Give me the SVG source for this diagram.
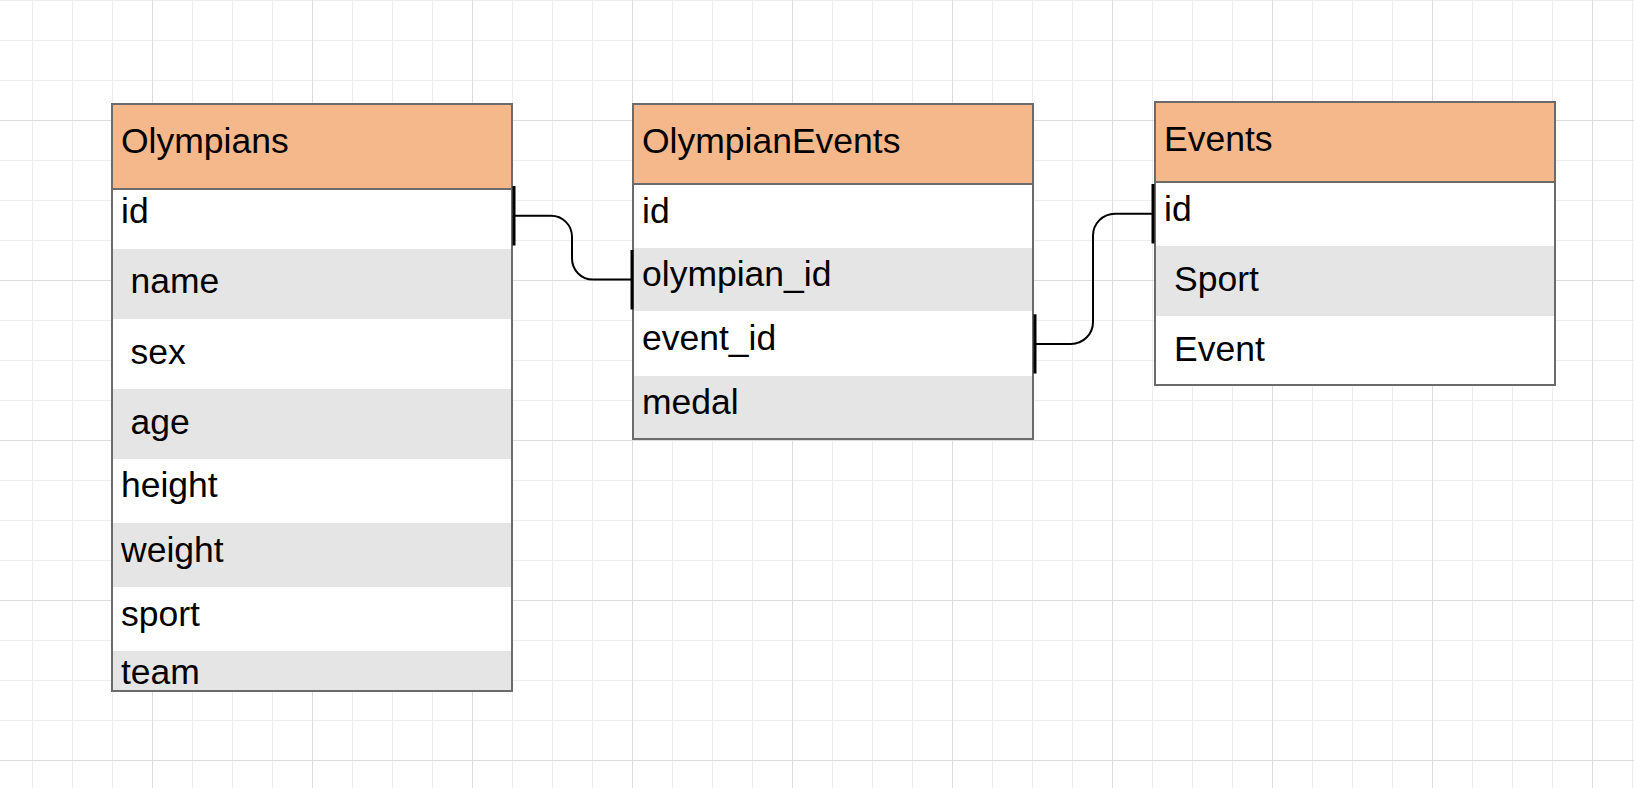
<svg xmlns="http://www.w3.org/2000/svg" width="1634" height="788" viewBox="0 0 1634 788">
<defs>
<pattern id="minor" width="40" height="40" patternUnits="userSpaceOnUse" x="32" y="0"><path d="M0.5 0V40M0 0.5H40" stroke="#ededed" stroke-width="1" fill="none"/></pattern>
<pattern id="major" width="160" height="160" patternUnits="userSpaceOnUse" x="152" y="120"><path d="M0.5 0V160M0 0.5H160" stroke="#dcdcdc" stroke-width="1" fill="none"/></pattern>
<style>
.hdr{fill:#f5b88a}
.row{fill:#ffffff}
.alt{fill:#e5e5e5}
.frame{fill:none;stroke:#6b6b6b;stroke-width:2}
.div{stroke:#6b6b6b;stroke-width:2}
text{font-family:"Liberation Sans",Arial,sans-serif;font-size:35.5px;fill:#000}
.link{fill:none;stroke:#000;stroke-width:2}
.bar{stroke:#000;stroke-width:3}
</style>
</defs>
<rect width="1634" height="788" fill="#ffffff"/>
<rect width="1634" height="788" fill="url(#minor)"/>
<rect width="1634" height="788" fill="url(#major)"/>

<g id="olympians">
<rect class="hdr" x="112" y="104" width="400" height="85"/>
<rect class="row" x="112" y="189" width="400" height="60"/>
<rect class="alt" x="112" y="249" width="400" height="70"/>
<rect class="row" x="112" y="319" width="400" height="70"/>
<rect class="alt" x="112" y="389" width="400" height="70"/>
<rect class="row" x="112" y="459" width="400" height="64"/>
<rect class="alt" x="112" y="523" width="400" height="64"/>
<rect class="row" x="112" y="587" width="400" height="64"/>
<rect class="alt" x="112" y="651" width="400" height="40"/>
<line class="div" x1="112" y1="189" x2="512" y2="189"/>
<rect class="frame" x="112" y="104" width="400" height="587"/>
<text x="121" y="153">Olympians</text>
<text x="121" y="223">id</text>
<text x="130.5" y="293">name</text>
<text x="130.5" y="364">sex</text>
<text x="130.5" y="434">age</text>
<text x="121" y="497">height</text>
<text x="121" y="562">weight</text>
<text x="121" y="626">sport</text>
<text x="121" y="684">team</text>
</g>

<g id="olympianevents">
<rect class="hdr" x="633" y="104" width="400" height="80"/>
<rect class="row" x="633" y="184" width="400" height="64"/>
<rect class="alt" x="633" y="248" width="400" height="63"/>
<rect class="row" x="633" y="311" width="400" height="65"/>
<rect class="alt" x="633" y="376" width="400" height="63"/>
<line class="div" x1="633" y1="184" x2="1033" y2="184"/>
<rect class="frame" x="633" y="104" width="400" height="335"/>
<text x="642" y="152.5">OlympianEvents</text>
<text x="642" y="223">id</text>
<text x="642" y="286">olympian_id</text>
<text x="642" y="350">event_id</text>
<text x="642" y="414">medal</text>
</g>

<g id="events">
<rect class="hdr" x="1155" y="102" width="400" height="80"/>
<rect class="row" x="1155" y="182" width="400" height="64"/>
<rect class="alt" x="1155" y="246" width="400" height="70"/>
<rect class="row" x="1155" y="316" width="400" height="69"/>
<line class="div" x1="1155" y1="182" x2="1555" y2="182"/>
<rect class="frame" x="1155" y="102" width="400" height="283"/>
<text x="1164" y="151">Events</text>
<text x="1164" y="221">id</text>
<text x="1174" y="291">Sport</text>
<text x="1174" y="361">Event</text>
</g>

<g id="connectors">
<path class="link" d="M514 215.7H551A21 21 0 0 1 572 236.7V258.6A21 21 0 0 0 593 279.6H632"/>
<line class="bar" x1="514" y1="186" x2="514" y2="245.5"/>
<line class="bar" x1="632" y1="250" x2="632" y2="309.5"/>
<path class="link" d="M1035 344H1071A22 22 0 0 0 1093 322V235.7A22 22 0 0 1 1115 213.7H1153"/>
<line class="bar" x1="1035" y1="314.3" x2="1035" y2="373.5"/>
<line class="bar" x1="1153" y1="184" x2="1153" y2="243.5"/>
</g>
</svg>
